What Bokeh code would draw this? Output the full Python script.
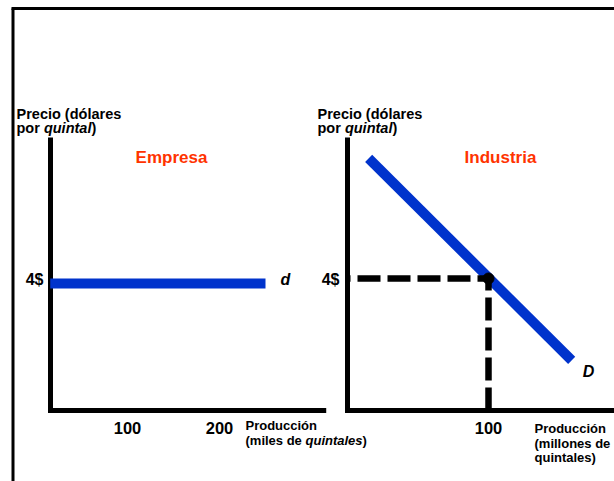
from bokeh.plotting import figure
from bokeh.models import Range1d
from bokeh.core.properties import value
from bokeh.embed import file_html
from bokeh.resources import INLINE

# ---------------- data ----------------
price_level = 4                 # 4$ per quintal
firm_q = [16, 250]              # horizontal demand d (thousands of quintals)
firm_p = [4, 4]
firm_ticks = [100, 200]
firm_tick_labels = ["100", "200"]

ind_q = [15, 159]               # industry demand D (millions of quintals)
ind_p = [7.64, 1.52]
ind_ticks = [100]
ind_tick_labels = ["100"]
eq_q = 100
eq_p = 4

W, H = 614, 481
FONT = value("Liberation Sans")
BLUE = "#0033cc"
RED = "#ff3300"
DY = -5   # text baseline correction


def lin_range(v0, p0, v1, p1, size):
    s = (p1 - p0) / (v1 - v0)
    start = v0 - p0 / s
    return Range1d(start, start + size / s)


p = figure(width=W, height=H, output_backend="svg", toolbar_location=None,
           x_range=Range1d(0, W), y_range=Range1d(H, 0),
           min_border=0, outline_line_color=None)
p.axis.visible = False
p.grid.visible = False

# panel ranges (x in pixels from left, y in pixels from bottom)
p.extra_x_ranges = {
    "xl": lin_range(100, 127, 200, 219, W),
    "xr": lin_range(0, 347, 100, 488, W),
}
p.extra_y_ranges = {
    "yl": lin_range(0, 71, 4, 198, H),
    "yr": lin_range(0, 71, 4, 203, H),
}

# outer frame (left and top edges)
p.line(x=[12.5, 12.5], y=[H, 8], line_color="black", line_width=3)
p.line(x=[11, W], y=[8, 8], line_color="black", line_width=3)

# ---------------- left panel: Empresa ----------------
xl0, xl1, yl1 = 16.3, 316, 8.6
p.line(x=[xl0, xl0, xl1], y=[yl1, 0, 0], x_range_name="xl", y_range_name="yl",
       line_color="black", line_width=5, line_join="miter")
p.line(x=firm_q, y=firm_p, x_range_name="xl", y_range_name="yl",
       line_color=BLUE, line_width=10)
p.text(x=firm_ticks, y=[0] * len(firm_ticks), text=firm_tick_labels,
       x_range_name="xl", y_range_name="yl", y_offset=22 + DY,
       text_font=FONT, text_font_style="bold", text_font_size="16.5px",
       text_align="center", text_baseline="alphabetic", text_color="black")
p.text(x=[xl0], y=[price_level], text=["4$"], x_range_name="xl", y_range_name="yl",
       x_offset=-7, y_offset=1 + DY, text_font=FONT, text_font_style="bold",
       text_font_size="16px", text_align="right", text_baseline="alphabetic")
p.text(x=[firm_q[-1]], y=[firm_p[-1]], text=["d"], x_range_name="xl", y_range_name="yl",
       x_offset=15, y_offset=1 + DY, text_font=FONT, text_font_style="bold italic",
       text_font_size="16px", text_align="left", text_baseline="alphabetic")

# ---------------- right panel: Industria ----------------
xr0, xr1, yr1 = 0, 192, 8.27
p.line(x=[xr0, xr0, xr1], y=[yr1, 0, 0], x_range_name="xr", y_range_name="yr",
       line_color="black", line_width=5, line_join="miter")
p.line(x=ind_q, y=ind_p, x_range_name="xr", y_range_name="yr",
       line_color=BLUE, line_width=10)
p.line(x=[0, eq_q], y=[eq_p, eq_p], x_range_name="xr", y_range_name="yr",
       line_color="black", line_width=6.5, line_dash="23 7", line_dash_offset=20)
p.line(x=[eq_q, eq_q], y=[0, eq_p], x_range_name="xr", y_range_name="yr",
       line_color="black", line_width=6.5, line_dash="23 7")
p.scatter(x=[eq_q], y=[eq_p], x_range_name="xr", y_range_name="yr",
          size=11, color="black")
p.text(x=ind_ticks, y=[0] * len(ind_ticks), text=ind_tick_labels,
       x_range_name="xr", y_range_name="yr", y_offset=22 + DY,
       text_font=FONT, text_font_style="bold", text_font_size="16.5px",
       text_align="center", text_baseline="alphabetic")
p.text(x=[xr0], y=[price_level], text=["4$"], x_range_name="xr", y_range_name="yr",
       x_offset=-8, y_offset=6 + DY, text_font=FONT, text_font_style="bold",
       text_font_size="16px", text_align="right", text_baseline="alphabetic")
p.text(x=[ind_q[-1]], y=[ind_p[-1]], text=["D"], x_range_name="xr", y_range_name="yr",
       x_offset=11, y_offset=16 + DY, text_font=FONT, text_font_style="bold italic",
       text_font_size="16px", text_align="left", text_baseline="alphabetic")


# ---------------- titles and axis labels (pixel coords) ----------------
def txt(x, y, s, size, style="bold", color="black", align="left"):
    p.text(x=[x], y=[y + DY], text=[s], text_font=FONT, text_font_style=style,
           text_font_size=size, text_color=color, text_align=align,
           text_baseline="alphabetic")


for x0 in (16, 317):
    txt(x0, 118, "Precio (dólares", "14.5px")
    txt(x0, 132, "por ", "14.5px")
    txt(x0 + 27.4, 132, "quintal", "14.5px", style="bold italic")
    txt(x0 + 74.9, 132, ")", "14.5px")

txt(171, 162, "Empresa", "17px", color=RED, align="center")
txt(500, 162, "Industria", "17px", color=RED, align="center")

txt(245, 430, "Producción", "13px")
txt(245, 445, "(miles de ", "13px")
txt(305, 445, "quintales", "13px", style="bold italic")
txt(362.1, 445, ")", "13px")

txt(534, 433, "Producción", "13px")
txt(534, 447.5, "(millones de", "13px")
txt(534, 462, "quintales)", "13px")

open("out.html", "w").write(file_html(p, INLINE))
